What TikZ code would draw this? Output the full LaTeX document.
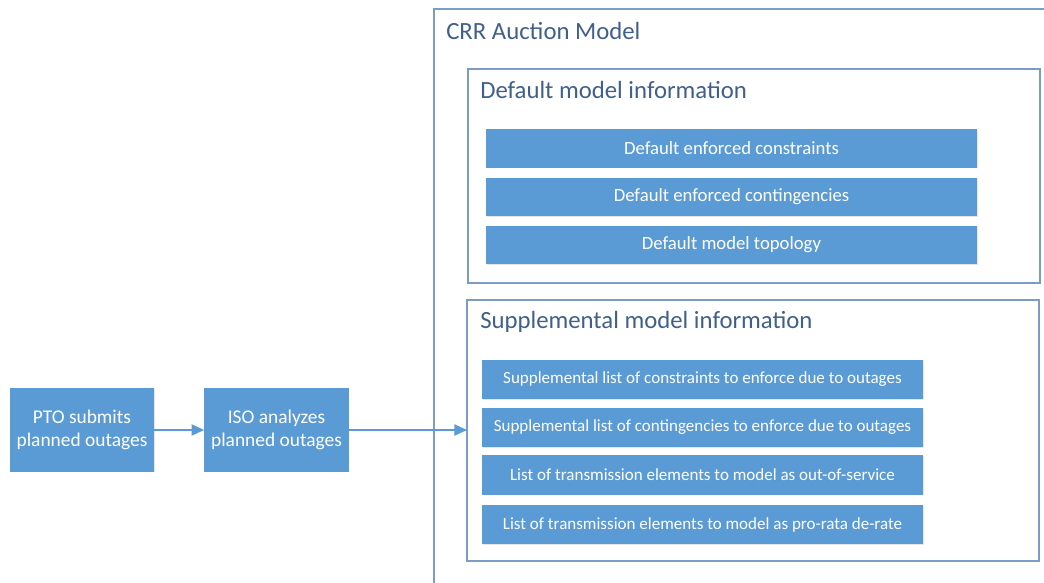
\documentclass[tikz,border=0pt]{standalone}
\usepackage{fontspec}
\setmainfont{Carlito}
\usepackage{tikz}
\usetikzlibrary{arrows.meta,shadows}
\definecolor{barblue}{HTML}{5B9BD5}
\definecolor{framecol}{HTML}{7C9CC4}
\definecolor{titlecol}{HTML}{3F5F8C}
\begin{document}
\begin{tikzpicture}[x=0.025cm,y=-0.025cm,
    frame/.style={draw=framecol,line width=0.9pt},
    boxtitle/.style={anchor=west,text=titlecol,font=\fontsize{17.6}{20}\selectfont,inner sep=0pt},
    bar/.style={fill=barblue,text=white,inner sep=0pt,drop shadow={opacity=0.2,shadow xshift=0.6pt,shadow yshift=-0.6pt}},
    defbar/.style={bar,minimum width=12.275cm,minimum height=0.95cm,font=\fontsize{13.3}{15}\selectfont},
    supbar/.style={bar,minimum width=11.025cm,minimum height=0.975cm,font=\fontsize{12.1}{14}\selectfont},
    stepbox/.style={bar,minimum width=3.6cm,minimum height=2.075cm,align=center,font=\fontsize{13.8}{16.5}\selectfont},
    flow/.style={-{Triangle[length=9pt,width=8pt]},draw=barblue,fill=barblue,line width=1pt}]
  \useasboundingbox (0,0) rectangle (1044,583);
  % outer model frame, runs off the page
  \draw[frame] (434,600) -- (434,9) -- (1060,9);
  \node[boxtitle] (crr) at (446,31) {CRR Auction Model};
  % default model information
  \draw[frame] (468,69) rectangle (1040,283);
  \node[boxtitle] (deftitle) at (480,90) {Default model information};
  \node[defbar] (def1) at (731.5,148.5) {Default enforced constraints};
  \node[defbar] (def2) at (731.5,197) {Default enforced contingencies};
  \node[defbar] (def3) at (731.5,245) {Default model topology};
  % supplemental model information
  \draw[frame] (467,300) rectangle (1039,561);
  \node[boxtitle] (suptitle) at (480,322) {Supplemental model information};
  \node[supbar] (sup1) at (702.5,379.5) {Supplemental list of constraints to enforce due to outages};
  \node[supbar] (sup2) at (702.5,427.5) {Supplemental list of contingencies to enforce due to outages};
  \node[supbar] (sup3) at (702.5,475) {List of transmission elements to model as out-of-service};
  \node[supbar] (sup4) at (702.5,524.5) {List of transmission elements to model as pro-rata de-rate};
  \coordinate (supin) at (467,430);
  % process steps
  \node[stepbox] (pto) at (82,430) {PTO submits\\planned outages};
  \node[stepbox] (iso) at (276.5,430) {ISO analyzes\\planned outages};
  \draw [flow] (pto) -- (iso);
  \draw [flow] (iso) -- (supin);
\end{tikzpicture}
\end{document}
